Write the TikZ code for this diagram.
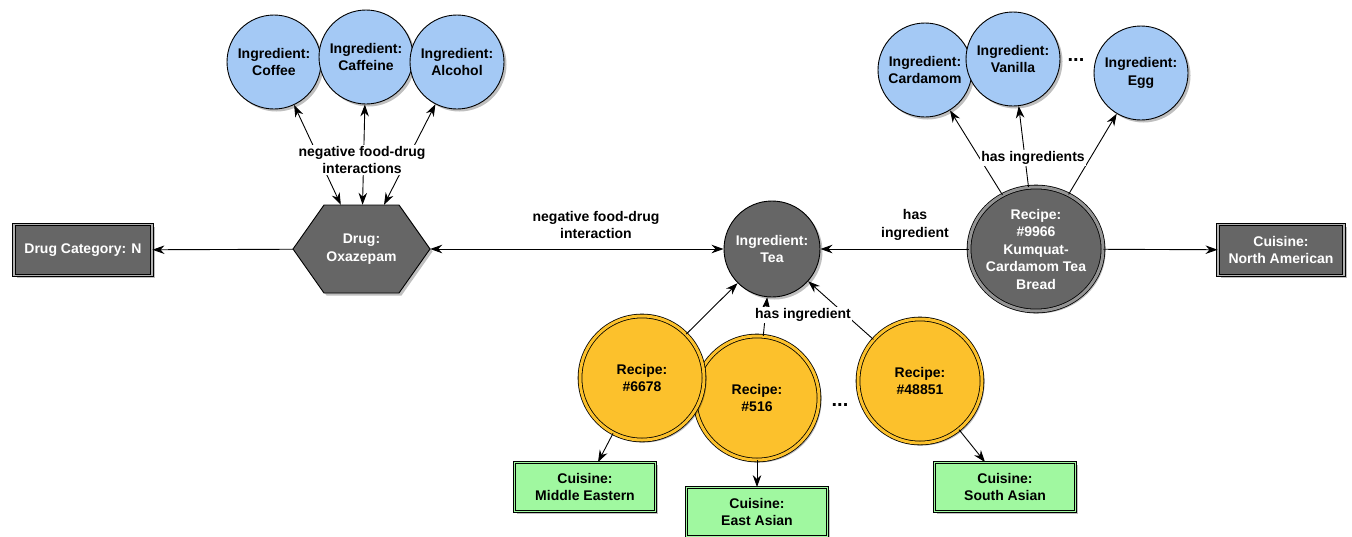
\documentclass[tikz,border=0pt]{standalone}
\usepackage{fontspec}
\setmainfont{Liberation Sans}
\usetikzlibrary{arrows.meta,shapes.geometric,shadows,calc}
\definecolor{darkfill}{RGB}{102,102,102}
\definecolor{bluefill}{RGB}{164,201,245}
\definecolor{yellowfill}{RGB}{252,193,44}
\definecolor{greenfill}{RGB}{160,248,160}
\tikzset{
  base/.style={font=\fontsize{14}{17.5}\selectfont\bfseries, align=center, inner sep=0pt},
  shadowed/.style={drop shadow={shadow xshift=2.5pt, shadow yshift=-2.5pt, opacity=0.25, fill=black}},
  ingr/.style={base, circle, draw, line width=0.9pt, fill=bluefill, minimum size=94pt, shadowed},
  teanode/.style={base, circle, draw, line width=0.9pt, fill=darkfill, text=white, minimum size=96pt, shadowed},
  recipe/.style={base, circle, draw, line width=0.8pt, double=yellowfill, double distance=3pt, fill=yellowfill, minimum size=124pt, shadowed},
  darkrecipe/.style={base, ellipse, draw, line width=0.8pt, double=darkfill!70, double distance=3pt, fill=darkfill, text=white, minimum width=134pt, minimum height=124pt, inner xsep=-5pt, shadowed},
  darkbox/.style={base, rectangle, draw, line width=0.9pt, double=gray!60, double distance=1.5pt, fill=darkfill, text=white, shadowed},
  cuisine/.style={base, rectangle, draw, line width=0.8pt, double=greenfill, double distance=1.5pt, fill=greenfill, minimum width=141pt, minimum height=49pt, shadowed},
  hexfill/.style={draw, line width=0.9pt, fill=darkfill, shadowed},
  lbl/.style={base, fill=white, inner sep=1.5pt},
  plainlbl/.style={base},
  dots/.style={font=\fontsize{20}{20}\selectfont\bfseries, inner sep=0pt},
  conn/.style={line width=0.9pt, -{Stealth[length=12pt,width=8.5pt]}},
  biconn/.style={line width=0.9pt, {Stealth[length=12pt,width=8.5pt]}-{Stealth[length=12pt,width=8.5pt]}},
}
\begin{document}
\begin{tikzpicture}[x=1pt, y=-1pt]
\useasboundingbox[fill=white] (0,0) rectangle (1352,536);

% hexagon shape for the drug
\path[hexfill] (293,249) -- (324,205) -- (399,205) -- (430,249) -- (399,293) -- (324,293) -- cycle;
\node[base, text=white, rectangle, minimum width=137pt, minimum height=88pt] (drug) at (361.5,249) {Drug:\\Oxazepam};

\node[darkbox, minimum width=138pt, minimum height=51pt] (drugcat) at (83,250) {Drug Category: N};

% ingredient circles (left)
\node[ingr] (coffee) at (274,62) {Ingredient:\\Coffee};
\node[ingr] (caffeine) at (366,57) {Ingredient:\\Caffeine};
\node[ingr] (alcohol) at (457,62) {Ingredient:\\Alcohol};

% tea
\node[teanode] (tea) at (772,249) {Ingredient:\\Tea};

% recipe 9966
\node[darkrecipe] (r9966) at (1036,249) {Recipe:\\\#9966\\Kumquat-\\Cardamom Tea\\Bread};
\node[darkbox, minimum width=126pt, minimum height=51pt] (na) at (1281,250) {Cuisine:\\North American};

% ingredient circles (right)
\node[ingr] (cardamom) at (925,70) {Ingredient:\\Cardamom};
\node[ingr] (vanilla) at (1013,59) {Ingredient:\\Vanilla};
\node[dots] (dotsA) at (1076,60) {...};
\node[ingr] (egg) at (1141,73) {Ingredient:\\Egg};

% recipes bottom
\node[recipe] (r516) at (757,398) {Recipe:\\\#516};
\node[recipe] (r6678) at (642,378) {Recipe:\\\#6678};
\node[dots] (dotsB) at (840,405) {...};
\node[recipe] (r48851) at (920,381) {Recipe:\\\#48851};

\node[cuisine] (me) at (585,487) {Cuisine:\\Middle Eastern};
\node[cuisine] (ea) at (757,512) {Cuisine:\\East Asian};
\node[cuisine] (sa) at (1005,487) {Cuisine:\\South Asian};

% connectors
\draw[biconn] (drug) -- (coffee);
\draw[biconn] (drug) -- (caffeine);
\draw[biconn] (drug) -- (alcohol);
\draw[conn] (drug) -- (drugcat);
\draw[biconn] (drug) -- (tea);
\draw[conn] (r9966) -- (tea);
\draw[conn] (r9966) -- (na);
\draw[conn] (r9966) -- (cardamom);
\draw[conn] (r9966) -- (vanilla);
\draw[conn] (r9966) -- (egg);
\draw[conn] (r6678) -- (tea);
\draw[conn] (r516) -- (tea);
\draw[conn] (r48851) -- (tea);
\draw[conn] (r6678) -- (me);
\draw[conn] (r516) -- (ea);
\draw[conn] (r48851) -- (sa);

% labels
\node[lbl] (l1) at (362,160) {negative food-drug\\interactions};
\node[plainlbl] (l2) at (596,225) {negative food-drug\\interaction};
\node[plainlbl] (l3) at (915,225) {has\\ingredient};
\node[lbl] (l4) at (1033,158) {has ingredients};
\node[lbl] (l5) at (803,315) {has ingredient};
\end{tikzpicture}
\end{document}
